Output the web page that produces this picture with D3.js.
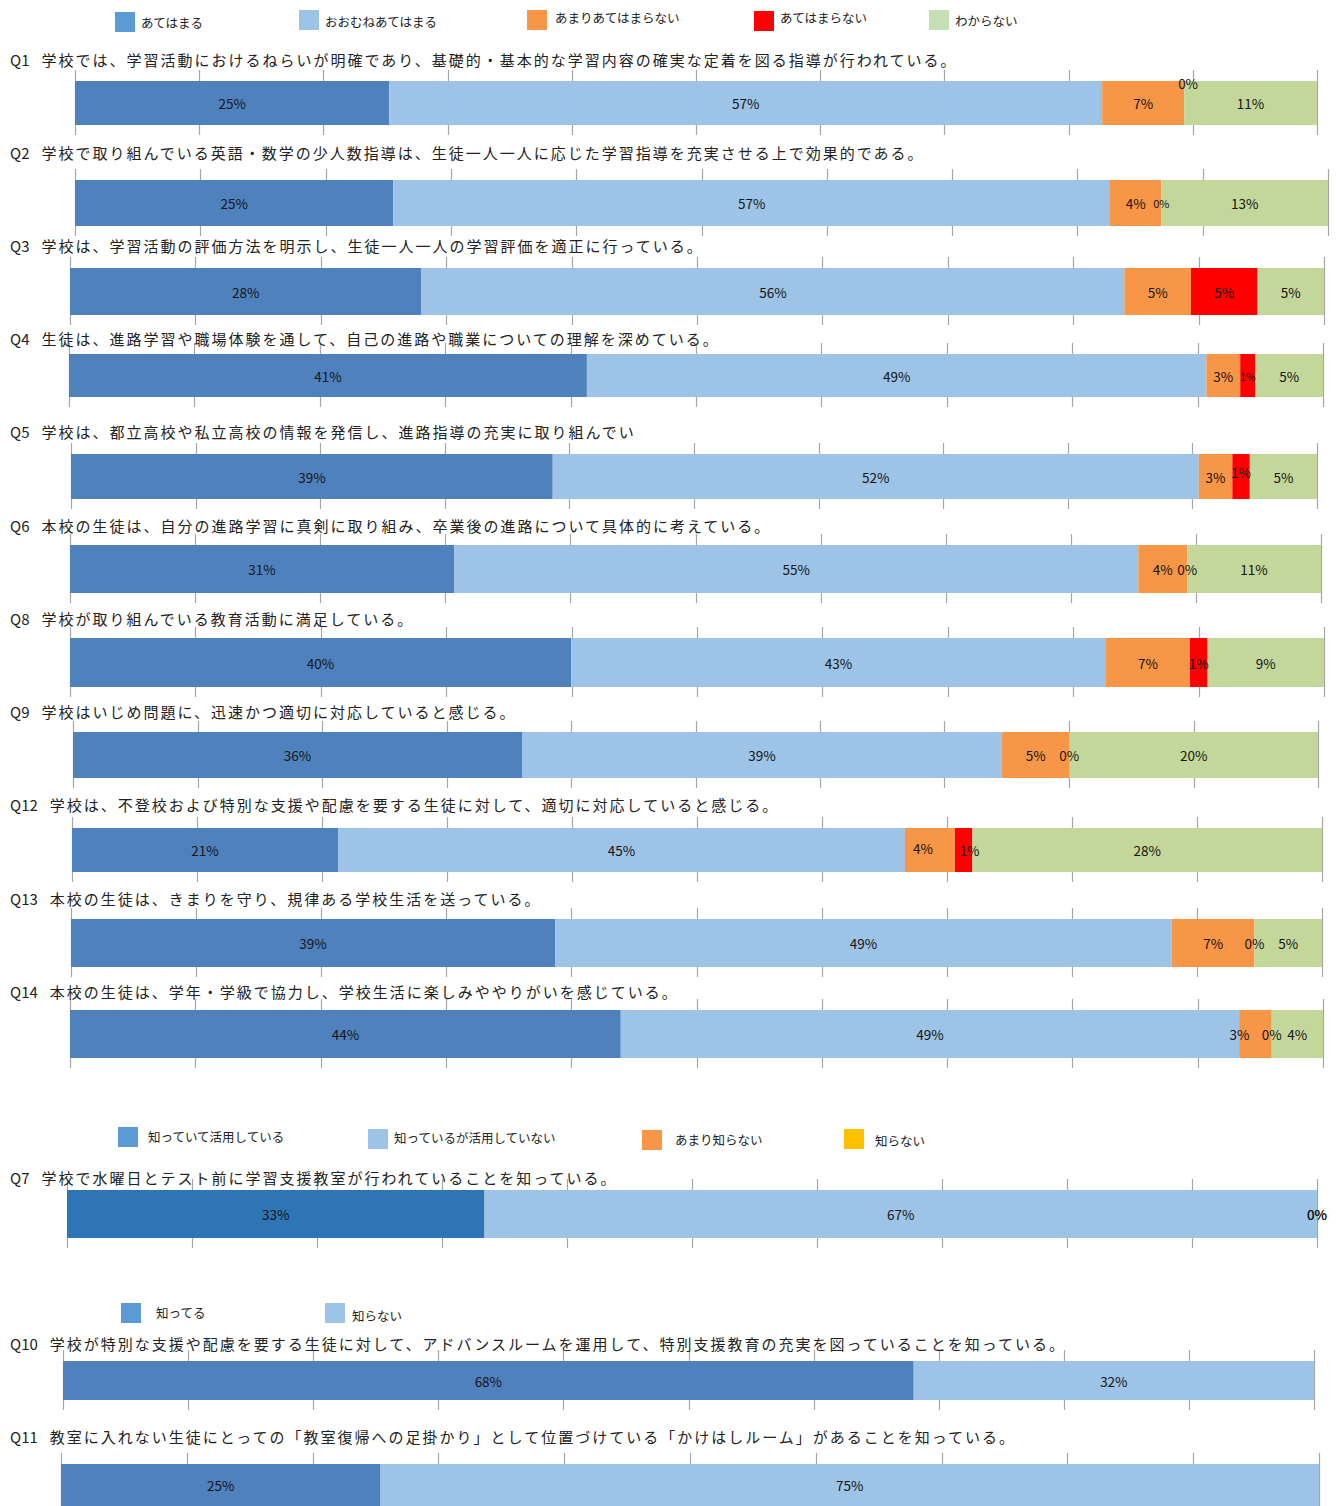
<!DOCTYPE html>
<html lang="ja">
<head>
<meta charset="utf-8">
<script src="https://cdn.jsdelivr.net/npm/d3@7"></script>
<style>
    body { margin: 0; background: #fff; }
    svg text { font-family: "Noto Sans CJK JP", "Noto Sans", sans-serif; }
</style>
</head>
<body>
<svg id="chart" width="1336" height="1506"></svg>
<script>
"use strict";

// ---- data: chart 1 (5 answers) ----
const legendA = ['あてはまる', 'おおむねあてはまる', 'あまりあてはまらない', 'あてはまらない', 'わからない'];
const qA = ['Q1', 'Q2', 'Q3', 'Q4', 'Q5', 'Q6', 'Q8', 'Q9', 'Q12', 'Q13', 'Q14'];
const textA = [
    '学校では、学習活動におけるねらいが明確であり、基礎的・基本的な学習内容の確実な定着を図る指導が行われている。',
    '学校で取り組んでいる英語・数学の少人数指導は、生徒一人一人に応じた学習指導を充実させる上で効果的である。',
    '学校は、学習活動の評価方法を明示し、生徒一人一人の学習評価を適正に行っている。',
    '生徒は、進路学習や職場体験を通して、自己の進路や職業についての理解を深めている。',
    '学校は、都立高校や私立高校の情報を発信し、進路指導の充実に取り組んでい',
    '本校の生徒は、自分の進路学習に真剣に取り組み、卒業後の進路について具体的に考えている。',
    '学校が取り組んでいる教育活動に満足している。',
    '学校はいじめ問題に、迅速かつ適切に対応していると感じる。',
    '学校は、不登校および特別な支援や配慮を要する生徒に対して、適切に対応していると感じる。',
    '本校の生徒は、きまりを守り、規律ある学校生活を送っている。',
    '本校の生徒は、学年・学級で協力し、学校生活に楽しみややりがいを感じている。'
];
const atehamaru    = [25.3, 25.4, 28.0, 41.3, 38.7, 30.7, 40.0, 36.1, 21.3, 38.7, 44.0];
const oomune       = [57.4, 57.2, 56.0, 49.4, 51.9, 54.7, 42.7, 38.6, 45.4, 49.3, 49.4];
const amari        = [6.6, 4.1, 5.3, 2.7, 2.7, 3.9, 6.7, 5.4, 4.0, 6.6, 2.6];
const atehamaranai = [0, 0, 5.3, 1.2, 1.4, 0, 1.4, 0, 1.4, 0, 0];
const wakaranai    = [10.7, 13.3, 5.3, 5.4, 5.4, 10.7, 9.3, 20.0, 28.0, 5.4, 4.1];

// ---- data: chart 2 (Q7) ----
const legendB = ['知っていて活用している', '知っているが活用していない', 'あまり知らない', '知らない'];
const qB = ['Q7'];
const textB = ['学校で水曜日とテスト前に学習支援教室が行われていることを知っている。'];
const katsuyou   = [33.4];
const mikatsuyou = [66.6];
const amariShiranai = [0];
const shiranaiB  = [0];

// ---- data: chart 3 (Q10, Q11) ----
const legendC = ['知ってる', '知らない'];
const qC = ['Q10', 'Q11'];
const textC = [
    '学校が特別な支援や配慮を要する生徒に対して、アドバンスルームを運用して、特別支援教育の充実を図っていることを知っている。',
    '教室に入れない生徒にとっての「教室復帰への足掛かり」として位置づけている「かけはしルーム」があることを知っている。'
];
const shitteru  = [68.0, 25.4];
const shiranaiC = [32.0, 74.6];

// ---- layout (pixels) ----
const rowsA = [
    {title: 61,  top: 81,   bottom: 125,  left: 75, right: 1317},
    {title: 154, top: 180,  bottom: 226,  left: 75, right: 1328},
    {title: 247, top: 268,  bottom: 315,  left: 70, right: 1324},
    {title: 340, top: 354,  bottom: 397,  left: 69, right: 1323},
    {title: 433, top: 454,  bottom: 499,  left: 71, right: 1317},
    {title: 527, top: 545,  bottom: 593,  left: 70, right: 1321},
    {title: 620, top: 638,  bottom: 687,  left: 70, right: 1324},
    {title: 713, top: 732,  bottom: 778,  left: 73, right: 1318},
    {title: 806, top: 828,  bottom: 872,  left: 72, right: 1322},
    {title: 900, top: 919,  bottom: 967,  left: 71, right: 1322},
    {title: 993, top: 1010, bottom: 1058, left: 70, right: 1323}
];
const rowsB = [{title: 1179, top: 1190, bottom: 1238, left: 67, right: 1317}];
const rowsC = [
    {title: 1345, top: 1361, bottom: 1400, left: 63, right: 1314},
    {title: 1438, top: 1464, bottom: 1520, left: 61, right: 1319, mid: 1485}
];

const legendPosA = [
    {x: 115, y: 12, tx: 141, ty: 22}, {x: 299, y: 10, tx: 325, ty: 21},
    {x: 527, y: 10, tx: 555, ty: 17}, {x: 754, y: 11, tx: 780, ty: 17},
    {x: 929, y: 10, tx: 955, ty: 20}
];
const legendPosB = [
    {x: 118, y: 1127, tx: 148, ty: 1136}, {x: 368, y: 1129, tx: 394, ty: 1137},
    {x: 642, y: 1130, tx: 675, ty: 1139}, {x: 844, y: 1129, tx: 875, ty: 1140}
];
const legendPosC = [
    {x: 121, y: 1303, tx: 156, ty: 1312}, {x: 325, y: 1303, tx: 352, ty: 1315}
];

// label tweaks (Excel hand-moved labels)
const nudge = {
    'Q1|3': {dx: 4, dy: -20},
    'Q2|3': {size: 11},
    'Q4|3': {size: 11},
    'Q5|3': {dy: -5},
    'Q12|2': {dx: -7, dy: -2},
    'Q12|3': {dx: 6},
    'Q14|2': {dx: -16}
};

const svg = d3.select('#chart');

function drawLegend(names, pos, swatchColors) {
    let g = svg.append('g');
    names.forEach((name, i) => {
        g.append('rect')
            .attr('x', pos[i].x)
            .attr('y', pos[i].y)
            .attr('width', 20)
            .attr('height', 20)
            .attr('fill', swatchColors[i]);
        g.append('text')
            .attr('x', pos[i].tx)
            .attr('y', pos[i].ty)
            .attr('dominant-baseline', 'central')
            .attr('font-size', '12.5px')
            .attr('fill', '#222')
            .text(name);
    });
}

function drawChart(qs, texts, series, rows, colors) {
    let keys = series.map((s, i) => 'k' + i);
    let table = qs.map((q, r) => {
        let o = {q: q};
        series.forEach((s, i) => { o['k' + i] = s[r]; });
        return o;
    });
    let stacked = d3.stack().keys(keys).offset(d3.stackOffsetExpand)(table);

    qs.forEach((q, r) => {
        let row = rows[r];
        let x = d3.scaleLinear().domain([0, 1]).range([row.left, row.right]);
        let mid = row.mid || (row.top + row.bottom) / 2;
        let g = svg.append('g');

        // gridlines every 10%
        g.selectAll('line.grid')
            .data(x.ticks(10))
            .join('line')
            .attr('class', 'grid')
            .attr('x1', d => Math.round(x(d)) + 0.5)
            .attr('x2', d => Math.round(x(d)) + 0.5)
            .attr('y1', row.top - 11)
            .attr('y2', row.bottom + 10)
            .attr('stroke', '#a6a6a6')
            .attr('stroke-width', 1.2);

        // bars
        stacked.forEach((layer, i) => {
            let d = layer[r];
            g.append('rect')
                .attr('x', x(d[0]))
                .attr('y', row.top)
                .attr('width', Math.max(0, x(d[1]) - x(d[0])))
                .attr('height', row.bottom - row.top)
                .attr('fill', colors[i]);
        });

        // data labels
        stacked.forEach((layer, i) => {
            let d = layer[r];
            let tw = nudge[q + '|' + i] || {};
            g.append('text')
                .attr('x', x((d[0] + d[1]) / 2) + (tw.dx || 0))
                .attr('y', mid + (tw.dy || 0))
                .attr('text-anchor', 'middle')
                .attr('dominant-baseline', 'central')
                .attr('font-family', '"Noto Sans", sans-serif')
                .attr('font-size', (tw.size || 13.5) + 'px')
                .attr('fill', '#151515')
                .text(Math.round(series[i][r]) + '%');
        });

        // question title
        let ql = g.append('text')
            .attr('x', 10)
            .attr('y', row.title - 1.5)
            .attr('dominant-baseline', 'central')
            .attr('font-size', '15px')
            .attr('fill', '#222')
            .text(q);
        let qw = ql.node().getComputedTextLength();
        g.append('text')
            .attr('x', 10 + qw + 12)
            .attr('y', row.title - 1.5)
            .attr('dominant-baseline', 'central')
            .attr('font-size', '15px')
            .attr('letter-spacing', '2px')
            .attr('fill', '#222')
            .text(texts[r]);
    });
}

drawLegend(legendA, legendPosA, ['#5b9bd5', '#9dc3e6', '#f79646', '#ff0000', '#c5e0b4']);
drawChart(qA, textA, [atehamaru, oomune, amari, atehamaranai, wakaranai], rowsA,
    ['#4f81bd', '#9dc3e6', '#f79646', '#ff0000', '#c4d79b']);

drawLegend(legendB, legendPosB, ['#5b9bd5', '#9dc3e6', '#f79646', '#ffc000']);
drawChart(qB, textB, [katsuyou, mikatsuyou, amariShiranai, shiranaiB], rowsB,
    ['#2e75b6', '#9dc3e6', '#f79646', '#ffc000']);

drawLegend(legendC, legendPosC, ['#5b9bd5', '#9dc3e6']);
drawChart(qC, textC, [shitteru, shiranaiC], rowsC, ['#4f81bd', '#9dc3e6']);
</script>
</body>
</html>
